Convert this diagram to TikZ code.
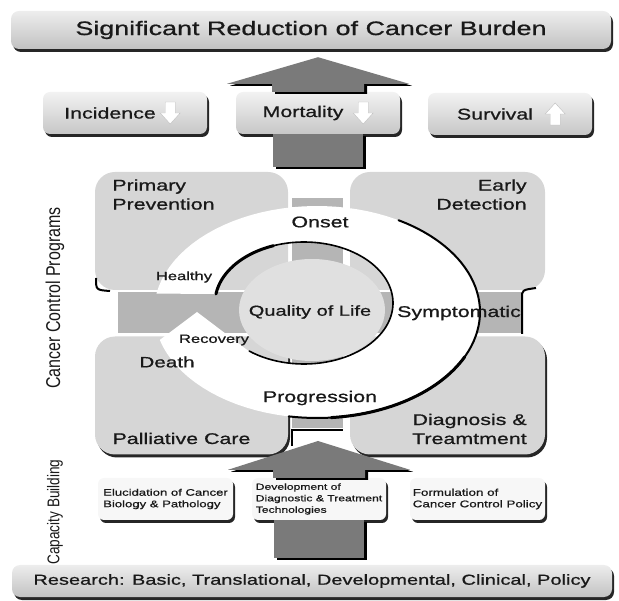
\documentclass[tikz,border=0pt]{standalone}
\usepackage{fontspec}
\setmainfont{Liberation Sans}[FakeStretch=1.38, FakeBold=0.8]
\newfontfamily\rotfont{Liberation Sans}[FakeStretch=0.8]
\usepackage{tikz}
\usetikzlibrary{calc,shadows}

\tikzset{
        blackshadow/.style={drop shadow={shadow xshift=2pt, shadow yshift=-3pt, fill=black!85, opacity=1}},
        bar/.style={rounded corners=8, top color=black!7, bottom color=black!24, blackshadow,
                text=black!90, minimum width=600pt},
        outbox/.style={rounded corners=7, top color=black!5, bottom color=black!22, blackshadow,
                text=black!90, minimum width=164pt, minimum height=42pt, font=\fontsize{15.5}{18}\selectfont},
        quad/.style={rounded corners=20, fill=black!16, minimum height=118pt},
        smallbox/.style={rounded corners=6, fill=black!3, blackshadow, align=left, text=black!90,
                minimum width=135pt, minimum height=42pt, inner sep=2pt},
        lbl/.style={text=black!90, font=\fontsize{15.5}{19}\selectfont},
        smalllbl/.style={text=black!90, font=\fontsize{12}{14}\selectfont},
        icon/.style={fill=white, draw=black!25},
        band/.style={fill=black!29},
        bigarrow/.style={fill=black!52, drop shadow={shadow xshift=3pt, shadow yshift=-2pt, fill=black, opacity=1}},
        ringline/.style={draw=black, line cap=round}
}

\begin{document}
\begin{tikzpicture}[x=1pt, y=-1pt]
        \useasboundingbox (0,0) rectangle (619,601);

        % The quadrants
        \node[quad, minimum width=193pt] (tl) at (191.5,231) {};
        \node[quad, minimum width=195pt] (tr) at (447.5,231) {};
        \node[quad, blackshadow, minimum width=193pt] (bl) at (191.5,395.5) {};
        \node[quad, blackshadow, minimum width=195pt] (br) at (447.5,395.5) {};
        \draw[line width=2pt] (96,278) .. controls (96,290) .. (110,291);

        % The cross behind the cycle
        \fill[band] (118,292) rectangle (522,333);
        \fill[band] (292,198) rectangle (343,428);
        \draw[line width=2pt] (522,334) -- (522,298) .. controls (522,290) .. (536,288);
        \draw[line width=2pt] (292,446) -- (292,430) -- (343,430);

        % The cycle
        \fill[white] plot[domain=190:524.7, samples=90] ({317+163*cos(\x)},{312+106*sin(\x)})
                -- (197,312)
                -- plot[domain=489.8:188.5, samples=90] ({304+89*cos(\x)},{303+61*sin(\x)})
                -- cycle;
        \fill[black!12] (312,310) ellipse [x radius=73pt, y radius=51pt];

        \draw[ringline, line width=3pt] plot[domain=188.5:250, samples=30] ({304+89*cos(\x)},{303+61*sin(\x)});
        \draw[ringline, line width=1.6pt] plot[domain=250:488, samples=80] ({304+89*cos(\x)},{303+61*sin(\x)});
        \draw[ringline, line width=2pt] plot[domain=300:460, samples=60] ({317+163*cos(\x)},{312+106*sin(\x)});
        \draw[ringline, line width=3pt] plot[domain=385:445, samples=30] ({317+163*cos(\x)},{312+106*sin(\x)});

        % The words in the cycle
        \node[lbl] (onset) at (320,222) {Onset};
        \node[lbl] (prog) at (320,398) {Progression};
        \node[lbl] (sympt) at (459,313) {Symptomatic};
        \node[lbl, font=\fontsize{14.5}{17}\selectfont] (qol) at (310,312) {Quality of Life};
        \node[smalllbl] (healthy) at (184,277) {Healthy};
        \node[smalllbl] (recov) at (214,340) {Recovery};
        \node[lbl, font=\fontsize{15}{18}\selectfont] (death) at (167,362) {Death};

        % The words in the quadrants
        \node[lbl, anchor=north west, align=left] (prim) at ($(tl.north west)+(14,4)$) {Primary\\Prevention};
        \node[lbl, anchor=north east, align=right] (early) at ($(tr.north east)+(-15,4)$) {Early\\Detection};
        \node[lbl, anchor=south] (pall) at ($(bl.south)+(-10,-7)$) {Palliative Care};
        \node[lbl, anchor=south east, align=right] (diag) at ($(br.south east)+(-15,-7)$) {Diagnosis \&\\Treamtment};

        % The top bar and the outcomes
        \node[bar, minimum height=38pt, font=\fontsize{19.5}{22}\selectfont] (burden) at (311,30)
                {Significant Reduction of Cancer Burden};
        \node[outbox] (incid) at (125,113) {Incidence\kern30pt};
        \node[outbox] (mort) at (318,113) {Mortality\kern30pt};
        \node[outbox] (surv) at (510,114) {Survival\kern30pt};

        \coordinate (incarr) at ($(incid.east)+(-37,0)$);
        \coordinate (mortarr) at ($(mort.east)+(-37,0)$);
        \coordinate (survarr) at ($(surv.east)+(-37,0)$);
        \draw[icon] ($(incarr)+(-5,-11)$) -- ++(10,0) -- ++(0,11) -- ++(5,0) -- ++(-10,11) -- ++(-10,-11) -- ++(5,0) -- cycle;
        \draw[icon] ($(mortarr)+(-5,-11)$) -- ++(10,0) -- ++(0,11) -- ++(5,0) -- ++(-10,11) -- ++(-10,-11) -- ++(5,0) -- cycle;
        \draw[icon] ($(survarr)+(-5,11)$) -- ++(10,0) -- ++(0,-11) -- ++(5,0) -- ++(-10,-11) -- ++(-10,11) -- ++(5,0) -- cycle;

        % The big arrows
        \fill[bigarrow] ($(mort.north)+(-46,0)$) -- ++(0,-8) -- ++(-45,0)
                -- ($(mort.north |- burden.south)+(0,8)$)
                -- ($(mort.north)+(91,-8)$) -- ++(-45,0) -- ++(0,8) -- cycle;
        \fill[bigarrow] ($(mort.south)+(-45,0)$) rectangle ($(mort.south)+(45,33)$);

        % The capacity boxes
        \node[smallbox, font=\fontsize{9.5}{11.5}\selectfont] (eluc) at (165.5,499)
                {Elucidation of Cancer\\Biology \& Pathology};
        \node[smallbox, font=\fontsize{8.8}{11.5}\selectfont, minimum width=134pt] (dev) at (319,499)
                {Development of\\Diagnostic \& Treatment\\Technologies};
        \node[smallbox, font=\fontsize{9.7}{11.5}\selectfont] (form) at (477.5,499)
                {Formulation of\\Cancer Control Policy};

        \node[bar, minimum height=32pt, font=\fontsize{14.5}{17}\selectfont] (research) at (312,581)
                {Research: Basic, Translational, Developmental, Clinical, Policy};

        \coordinate (lowtip) at (318,441);
        \fill[bigarrow] ($(dev.north)+(-46,0)$) -- ++(0,-8) -- ++(-45,0) -- (lowtip)
                -- ($(dev.north)+(91,-8)$) -- ++(-45,0) -- ++(0,8) -- cycle;
        \fill[bigarrow] ($(dev.south)+(-45,0)$) rectangle ($(research.north -| dev.south)+(45,-7)$);

        % The side titles
        \node[rotate=90, text=black!90, font={\rotfont\fontsize{20}{22}\selectfont}] (ccp) at (55,298)
                {Cancer Control Programs};
        \node[rotate=90, text=black!90, font={\rotfont\fontsize{17}{20}\selectfont}] (capb) at (55,512)
                {Capacity Building};

\end{tikzpicture}
\end{document}
